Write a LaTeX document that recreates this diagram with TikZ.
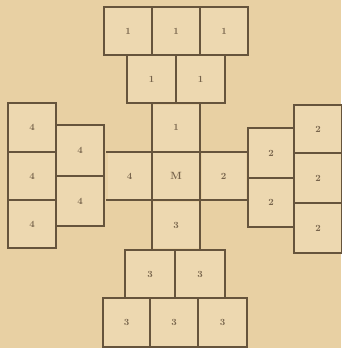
\documentclass[tikz,border=0pt]{standalone}
\usepackage{tikz}
\definecolor{paper}{HTML}{E8D0A3}
\definecolor{boxfill}{HTML}{EDD8B0}
\definecolor{ink}{HTML}{66543C}
\definecolor{txt}{HTML}{76634B}
\tikzset{
  cell/.style={draw=ink, line width=2.5pt, fill=boxfill, inner sep=0pt, text=txt,
    font=\fontsize{9.5}{10}\bfseries\selectfont},
  open/.style={inner sep=0pt, text=txt, font=\fontsize{9.5}{10}\bfseries\selectfont, fill=boxfill},
  rule/.style={draw=ink, line width=2.5pt, line cap=rect}
}
\begin{document}
\begin{tikzpicture}[x=1pt,y=-1pt]
\fill[paper] (0,0) rectangle (341,348);
\useasboundingbox (0,0) rectangle (341,348);
% top row of three
\node[cell, minimum width=48pt, minimum height=48pt] (t1) at (128,31) {1};
\node[cell, minimum width=48pt, minimum height=48pt] (t2) at (176,31) {1};
\node[cell, minimum width=48pt, minimum height=48pt] (t3) at (224,31) {1};
% second row of two
\node[cell, minimum width=49pt, minimum height=48pt] (s1) at (151.5,79) {1};
\node[cell, minimum width=49pt, minimum height=48pt] (s2) at (200.5,79) {1};
% central cross cells
\node[open, minimum width=46pt, minimum height=46pt] (c1) at (176,127.5) {1};
\node[open, minimum width=46pt, minimum height=46pt] (cm) at (176,176) {\fontsize{10.5}{11}\selectfont M};
\node[open, minimum width=44pt, minimum height=46pt] (c4) at (129.5,176) {4};
\node[open, minimum width=44pt, minimum height=46pt] (c2) at (223.5,176) {2};
\node[open, minimum width=46pt, minimum height=46pt] (c3) at (176,225) {3};
% cross lines
\coordinate (hl1) at (107,152);
\coordinate (hr1) at (247,152);
\coordinate (hl2) at (107,200);
\coordinate (hr2) at (247,200);
\coordinate (vtl) at (152,103);
\coordinate (vtr) at (200,103);
\coordinate (vbl) at (152,250);
\coordinate (vbr) at (200,250);
\draw[rule] (hl1) -- (hr1);
\draw[rule] (hl2) -- (hr2);
\draw[rule] (vtl) -- (vbl);
\draw[rule] (vtr) -- (vbr);
% bottom row of two
\node[cell, minimum width=50pt, minimum height=48pt] (b1) at (150,274) {3};
\node[cell, minimum width=50pt, minimum height=48pt] (b2) at (200,274) {3};
% bottom row of three
\node[cell, minimum width=47pt, minimum height=49pt] (u1) at (126.5,322.5) {3};
\node[cell, minimum width=48pt, minimum height=49pt] (u2) at (174,322.5) {3};
\node[cell, minimum width=49pt, minimum height=49pt] (u3) at (222.5,322.5) {3};
% left column of three
\node[cell, minimum width=48pt, minimum height=49pt] (l1) at (32,127.5) {4};
\node[cell, minimum width=48pt, minimum height=48pt] (l2) at (32,176) {4};
\node[cell, minimum width=48pt, minimum height=48pt] (l3) at (32,224) {4};
% left column of two
\node[cell, minimum width=48pt, minimum height=51pt] (m1) at (80,150.5) {4};
\node[cell, minimum width=48pt, minimum height=50pt] (m2) at (80,201) {4};
% right column of two
\node[cell, minimum width=46pt, minimum height=50pt] (r1) at (271,153) {2};
\node[cell, minimum width=46pt, minimum height=49pt] (r2) at (271,202.5) {2};
% right column of three
\node[cell, minimum width=48pt, minimum height=48pt] (q1) at (318,129) {2};
\node[cell, minimum width=48pt, minimum height=50pt] (q2) at (318,178) {2};
\node[cell, minimum width=48pt, minimum height=50pt] (q3) at (318,228) {2};
\end{tikzpicture}
\end{document}
